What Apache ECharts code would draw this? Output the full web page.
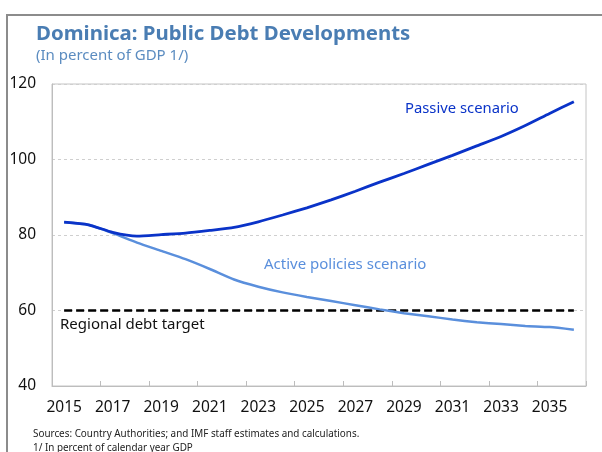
<!DOCTYPE html>
<html><head><meta charset="utf-8">
<script src="https://cdn.jsdelivr.net/npm/echarts@6/dist/echarts.min.js"></script>
<style>html,body{margin:0;padding:0;background:#fff}#c{width:602px;height:452px}</style>
</head><body><div id="c"></div>
<script>
const years = ['2015','2016','2017','2018','2019','2020','2021','2022','2023','2024','2025','2026','2027','2028','2029','2030','2031','2032','2033','2034','2035','2036'];
const passive = [83.4,82.7,80.7,79.7,80.1,80.5,81.2,82.0,83.5,85.3,87.2,89.3,91.6,94.0,96.3,98.7,101.1,103.6,106.1,109.0,112.2,115.3];
const active = [83.4,82.7,80.5,78.0,75.8,73.6,71.0,68.2,66.3,64.8,63.6,62.5,61.4,60.3,59.3,58.5,57.6,56.9,56.4,55.9,55.6,54.9];
const target = [60,60,60,60,60,60,60,60,60,60,60,60,60,60,60,60,60,60,60,60,60,60];
const yTicks = {min:40, max:120, interval:20};
const FONT = '"Noto Sans", "Open Sans", sans-serif';

const chart = echarts.init(document.getElementById('c'), null, {renderer:'canvas'});
chart.setOption({
  animation:false,
  textStyle:{fontFamily:FONT},
  grid:{left:52,right:16,top:84,bottom:66,show:true,borderColor:'#c4c4c4',borderWidth:1},
  graphic:[
    {type:'rect',shape:{x:7,y:15,width:700,height:500},style:{fill:'none',stroke:'#8c8c8c',lineWidth:2},silent:true},
    {type:'text',left:36,top:24,style:{text:'Dominica: Public Debt Developments',fontFamily:FONT,fontWeight:'bold',fontSize:20.4,fill:'#4a7db3'}},
    {type:'text',left:36,top:48,style:{text:'(In percent of GDP 1/)',fontFamily:FONT,fontSize:15,fill:'#5b8cc0'}},
    {type:'text',left:33,top:429,style:{text:'Sources: Country Authorities; and IMF staff estimates and calculations.',fontFamily:FONT,fontSize:9.9,fill:'#222'}},
    {type:'text',left:33,top:443,style:{text:'1/ In percent of calendar year GDP',fontFamily:FONT,fontSize:9.9,fill:'#222'}},
    {type:'text',left:405,top:101,style:{text:'Passive scenario',fontFamily:FONT,fontSize:14.8,fill:'#0a33c8'}},
    {type:'text',left:264,top:257,style:{text:'Active policies scenario',fontFamily:FONT,fontSize:15,fill:'#5a8fdc'}},
    {type:'text',left:60,top:317,style:{text:'Regional debt target',fontFamily:FONT,fontSize:15,fill:'#111'}}
  ],
  xAxis:{type:'category',data:years,boundaryGap:true,
    axisLine:{lineStyle:{color:'#bdbdbd'}},
    axisTick:{show:true,inside:true,length:5,lineStyle:{color:'#bdbdbd'}},
    axisLabel:{interval:1,fontSize:15.5,color:'#111',margin:14,fontFamily:FONT},
    splitLine:{show:false}},
  yAxis:{type:'value',min:yTicks.min,max:yTicks.max,interval:yTicks.interval,
    axisLine:{show:true,lineStyle:{color:'#bdbdbd'}},
    axisTick:{show:false},
    axisLabel:{fontSize:15.5,color:'#111',margin:16,fontFamily:FONT},
    splitLine:{show:true,lineStyle:{color:'#cfcfcf',type:[3,3],width:1}}},
  series:[
    {name:'Regional debt target',type:'line',data:target,symbol:'none',z:3,
      lineStyle:{color:'#000',width:2.5,type:[8,4]}},
    {name:'Active policies scenario',type:'line',data:active,symbol:'none',smooth:0.2,z:4,
      lineStyle:{color:'#5a8fdc',width:2.5}},
    {name:'Passive scenario',type:'line',data:passive,symbol:'none',smooth:0.2,z:5,
      lineStyle:{color:'#0a33c8',width:2.8}}
  ]
});
</script></body></html>
